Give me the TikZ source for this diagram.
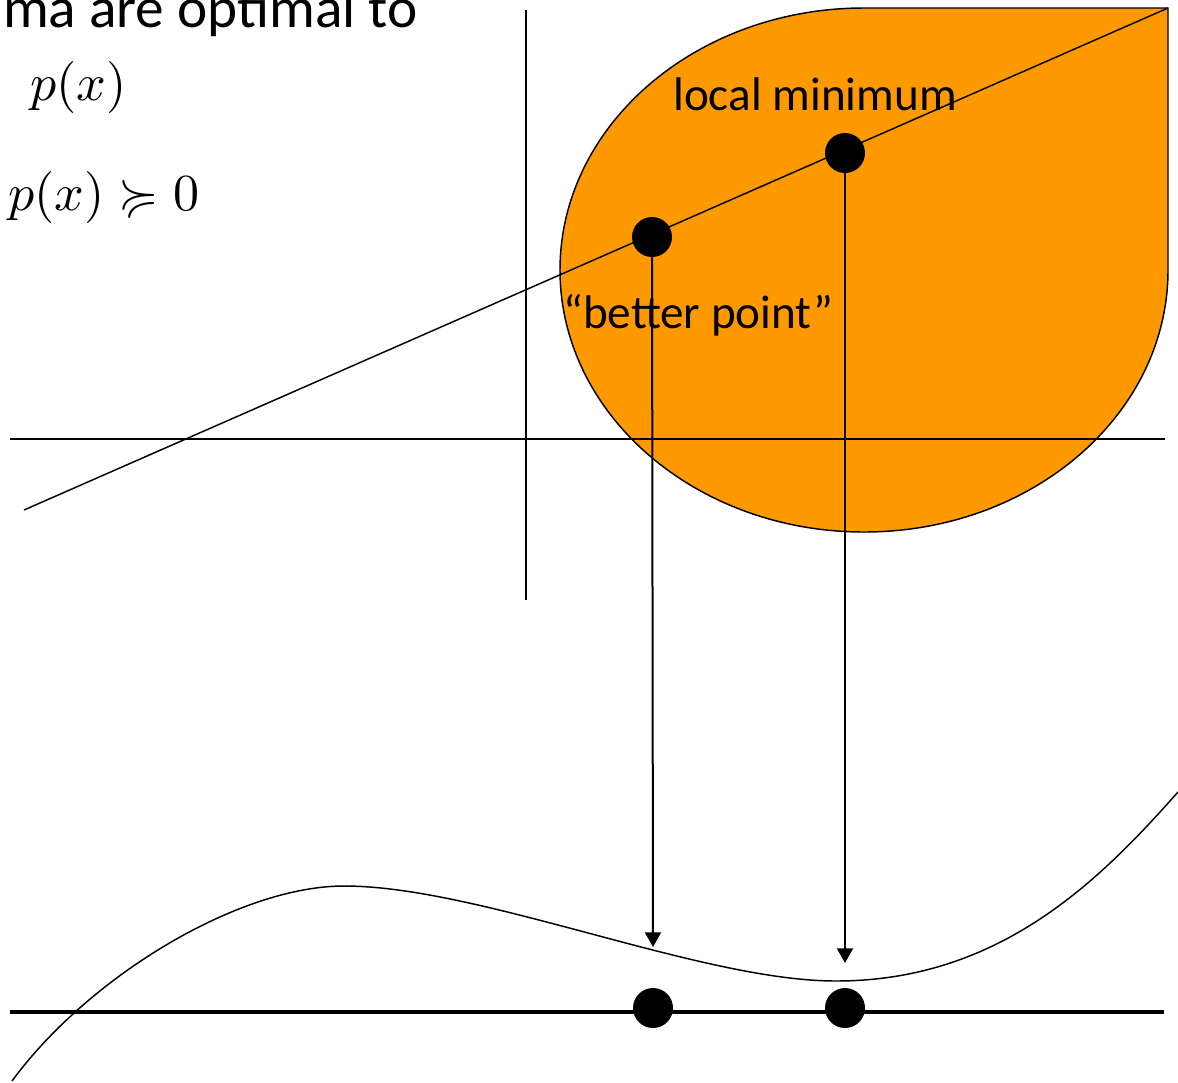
\documentclass[tikz,border=0pt]{standalone}
\usepackage{amssymb}
\usepackage{fontspec}
\newfontfamily\calibri{Carlito}
\usetikzlibrary{arrows.meta}
\definecolor{orangefill}{RGB}{255,153,0}
\begin{document}
\begin{tikzpicture}[x=0.75pt,y=-0.75pt,
  axisline/.style={line width=1.1pt, draw=black},
  thickline/.style={line width=3pt, draw=black},
  arrowline/.style={line width=1.5pt, draw=black, -{Triangle[width=12pt,length=11pt]}},
  dot/.style={circle, fill=black, draw=none, minimum size=30pt, inner sep=0pt},
  lbl/.style={font=\calibri\fontsize{35.4}{42}\selectfont, inner sep=0pt},
  mathlbl/.style={inner sep=0pt}]
\useasboundingbox (0,0) rectangle (1178,1082);
\clip (0,0) rectangle (1178,1082);

% orange feasible region (ellipse with square top-right corner)
\filldraw[fill=orangefill, axisline]
  (864,8) -- (1168,8) -- (1168,270)
  .. controls (1168,414.7) and (1031.9,532) .. (864,532)
  .. controls (696.1,532) and (560,414.7) .. (560,270)
  .. controls (560,125.3) and (696.1,8) .. (864,8) -- cycle;

% axes
\coordinate (vTop) at (526,10);
\coordinate (vBot) at (526,600);
\coordinate (hL) at (10,439);
\coordinate (hR) at (1165,439);
\draw[axisline] (vTop) -- (vBot);
\draw[axisline] (hL) -- (hR);

% slanted line
\coordinate (lA) at (24,510);
\coordinate (lB) at (1168,8);
\draw[axisline] (lA) -- (lB);

% labels in region
\node[lbl, anchor=base west] (tLocal) at (673,110) {local minimum};
\node[lbl, anchor=base west] (tBetter) at (563,328) {“better point”};

% points on the slanted line
\node[dot] (dA) at (652,237) {};
\node[dot] (dB) at (845,153) {};

% curve p(x)
\draw[axisline] (12,1081)
  .. controls (90,975) and (240,886) .. (344,886)
  .. controls (480,886) and (700,981) .. (836,981)
  .. controls (1000,981) and (1100,880) .. (1178,792);

% bottom axis
\coordinate (bL) at (10,1012);
\coordinate (bR) at (1164,1012);
\draw[thickline] (bL) -- (bR);
\node[dot] (bA) at (653,1008) {};
\node[dot] (bB) at (845,1008) {};

% projection arrows
\coordinate (tipA) at (653,947);
\coordinate (tipB) at (845,963);
\draw[arrowline] (dA) -- (tipA);
\draw[arrowline] (dB) -- (tipB);

% top-left text (cut by the picture edge)
\node[anchor=base east, inner sep=0pt, font=\calibri\fontsize{43}{50}\selectfont] (tTitle) at (418,27) {ma are optimal to};
\node[mathlbl, anchor=base east] (tObj) at (127,100) {\scalebox{3.9}{$p(x)$}};
\node[mathlbl, anchor=base east] (tCons) at (200,210) {\scalebox{3.9}{$p(x) \succcurlyeq 0$}};
\end{tikzpicture}
\end{document}
